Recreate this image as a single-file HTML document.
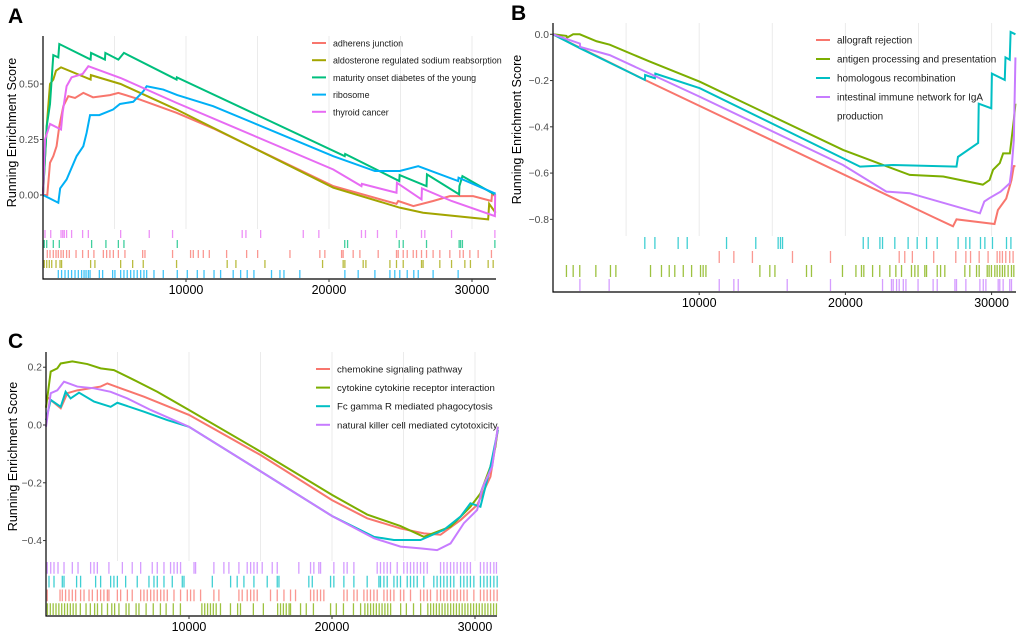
<!DOCTYPE html>
<html><head><meta charset="utf-8"><style>
html,body{margin:0;padding:0;background:#fff;}
svg{display:block;font-family:"Liberation Sans",Arial,sans-serif;}
</style></head><body>
<svg id="fig" width="1020" height="634" viewBox="0 0 1020 634"></svg>
<script>
// ---------- Panel A data (rank in thousands, running enrichment score) ----------
const aRed=[[0,0],[0.3,0],[0.49,0.145],[0.72,0.175],[0.95,0.22],[1.14,0.31],[1.42,0.40],[1.77,0.445],[2.24,0.437],[2.82,0.46],[3.5,0.44],[4.68,0.45],[5.27,0.46],[6.78,0.43],[9.34,0.37],[11.9,0.30],[20.3,0.04],[24.72,-0.04],[24.84,-0.027],[25.9,-0.05],[27.28,-0.027],[28.45,-0.005],[30.08,-0.005],[31.36,-0.027],[31.4,0.003],[31.65,-0.005]];
const aOlive=[[0,0],[0.26,0.31],[0.49,0.50],[0.72,0.52],[0.91,0.56],[1.26,0.575],[3.33,0.52],[3.35,0.54],[5.43,0.50],[9.34,0.385],[20.3,0.033],[24.95,-0.057],[26.58,-0.08],[31.13,-0.11],[31.2,-0.04],[31.65,-0.08]];
const aGreen=[[0,0],[0.26,0.31],[0.49,0.41],[0.72,0.63],[1.07,0.62],[1.14,0.68],[3.33,0.61],[3.36,0.64],[4.33,0.61],[4.36,0.64],[5.27,0.61],[5.66,0.64],[9.34,0.52],[9.36,0.53],[21.1,0.175],[21.13,0.185],[24.91,0.063],[24.94,0.09],[26.82,0.04],[26.85,0.093],[29.1,0.003],[29.12,0.04],[29.33,0.085],[31.65,0]];
const aBlue=[[0,0],[1.07,-0.035],[1.2,0.03],[1.65,0.07],[2.35,0.175],[2.82,0.22],[3.05,0.28],[3.29,0.36],[3.94,0.36],[4.9,0.385],[5.38,0.41],[6.31,0.42],[7.01,0.467],[7.25,0.49],[8.41,0.475],[9.39,0.45],[11.9,0.40],[20.3,0.175],[23.21,0.108],[24.95,0.108],[26.24,0.13],[29.03,0.063],[29.06,0.078],[31.65,0.006]];
const aPink=[[0,0],[0.14,0.25],[0.49,0.32],[1.26,0.295],[1.37,0.37],[1.65,0.49],[2.0,0.53],[2.77,0.545],[3.17,0.58],[5.43,0.527],[9.34,0.415],[20.3,0.115],[22.27,0.04],[22.3,0.05],[24.72,0.01],[24.75,0.055],[26.47,-0.02],[26.5,0.03],[28.57,-0.027],[31.6,-0.095],[31.62,0.003]];
const aRugPink=[0.14,0.54,1.26,1.38,1.49,1.65,2.0,2.77,3.17,5.43,7.43,9.06,13.93,14.19,15.22,18.2,19.29,22.27,22.55,23.39,24.72,26.47,26.7,28.57,31.6];
const aRugGreen=[0.09,0.26,0.72,1.14,3.4,4.4,5.27,5.66,9.39,21.1,21.3,24.91,25.19,26.82,29.1,29.2,29.33,31.6];
const aRugRed=[0.3,0.49,0.72,0.91,1.07,1.26,1.42,1.65,1.84,2.31,2.77,3.17,3.56,4.22,4.45,4.68,4.92,5.27,5.73,6.97,7.13,9.06,10.32,10.51,10.86,11.21,11.63,12.84,14.24,15.01,17.27,19.36,19.71,20.88,20.99,21.69,22.16,23.44,24.72,24.84,25.19,25.47,25.89,26.12,26.47,26.82,27.28,27.75,28.45,29.15,29.39,29.85,30.43,31.36];
const aRugOlive=[0.09,0.26,0.44,0.61,0.91,1.19,1.3,3.33,3.63,5.43,6.27,7.01,9.34,12.88,13.49,15.52,19.55,20.99,21.11,22.39,22.58,24.26,24.72,25.19,26.47,26.58,27.75,28.57,29.5,29.89,31.13,31.48];
const aRugBlue=[1.07,1.3,1.54,1.77,2.0,2.24,2.47,2.7,2.87,3.01,3.17,3.29,3.94,4.17,4.87,5.03,5.43,5.66,5.89,6.13,6.36,6.59,6.83,7.06,7.25,7.76,8.41,9.39,10.09,10.79,11.26,11.96,12.42,13.3,13.82,14.28,14.75,15.98,16.57,16.85,17.96,21.11,22.04,23.21,24.26,24.6,24.95,25.47,25.93,26.24,27.28,29.03];
const aLegend=["adherens junction","aldosterone regulated sodium reabsorption","maturity onset diabetes of the young","ribosome","thyroid cancer"];
const aYTicks=[0,0.25,0.5];
const aYTickLabels=["0.00","0.25","0.50"];

// ---------- Panel B data ----------
const bRed=[[0,0],[6.28,-0.197],[26.0,-0.79],[27.36,-0.83],[27.6,-0.8],[30.2,-0.82],[30.43,-0.76],[31.0,-0.71],[31.36,-0.63],[31.52,-0.57],[31.63,-0.57]];
const bGreen=[[0,0],[0.92,-0.007],[0.95,-0.015],[1.38,0],[1.83,0],[2.98,-0.03],[3.88,-0.045],[6.62,-0.118],[10.04,-0.205],[19.84,-0.5],[24.4,-0.608],[26.69,-0.615],[29.4,-0.65],[29.86,-0.63],[30.1,-0.586],[30.56,-0.557],[30.79,-0.515],[31.25,-0.515],[31.36,-0.457],[31.52,-0.37],[31.63,-0.3]];
const bCyan=[[0,0],[1.84,-0.06],[6.28,-0.197],[6.3,-0.176],[6.97,-0.19],[7.0,-0.17],[10.04,-0.233],[21.0,-0.572],[23.26,-0.565],[27.6,-0.572],[27.7,-0.53],[29.08,-0.47],[29.12,-0.3],[29.98,-0.32],[30.02,-0.17],[30.9,-0.197],[30.95,-0.1],[31.24,-0.11],[31.3,0.01],[31.63,0]];
const bPurple=[[0,0],[1.84,-0.04],[1.86,-0.055],[3.88,-0.09],[6.62,-0.17],[10.04,-0.27],[19.84,-0.565],[22.8,-0.68],[24.4,-0.687],[29.2,-0.774],[29.5,-0.723],[29.83,-0.709],[30.62,-0.68],[31.24,-0.644],[31.36,-0.586],[31.52,-0.457],[31.6,-0.2],[31.63,-0.1]];
const bRugCyan=[6.28,6.97,8.56,9.18,11.87,13.87,15.4,15.56,15.7,21.22,21.56,22.36,22.54,23.38,24.29,24.91,25.55,26.28,27.71,28.24,28.51,29.24,29.54,30.06,31.02,31.32];
const bRugRed=[11.37,12.37,13.64,16.38,18.98,23.68,24.06,24.58,26.04,27.55,28.24,28.56,29.15,29.76,30.38,30.56,30.74,30.97,31.24,31.47];
const bRugGreen=[0.92,1.38,1.83,2.93,3.93,4.3,6.67,7.42,7.95,8.33,8.91,9.48,10.09,10.27,10.46,14.15,14.83,15.18,17.34,17.68,19.8,20.72,21.1,21.26,21.86,22.35,23.04,23.45,23.84,24.52,24.75,24.97,25.43,25.55,26.28,26.51,26.8,28.17,28.51,28.97,29.15,29.7,29.83,29.99,30.22,30.38,30.56,30.74,30.9,31.13,31.36,31.52];
const bRugPurple=[1.84,3.84,11.37,12.37,12.67,16.02,18.98,22.54,23.15,23.27,23.5,23.68,23.96,24.14,24.97,26.0,26.28,27.49,27.6,28.24,29.2,29.43,29.61,30.45,30.56,30.79,31.24,31.36];
const bLegend=["allograft rejection","antigen processing and presentation","homologous recombination","intestinal immune network for IgA"];
const bYTicks=[0,-0.2,-0.4,-0.6,-0.8];
const bYTickLabels=["0.0","\u22120.2","\u22120.4","\u22120.6","\u22120.8"];

// ---------- Panel C data ----------
const cRed=[[0,0.1],[1.03,0.058],[1.49,0.11],[2.19,0.12],[3.82,0.133],[4.29,0.144],[5.22,0.127],[6.85,0.098],[10.0,0.035],[15.0,-0.104],[20.0,-0.26],[22.46,-0.323],[24.79,-0.358],[26.42,-0.375],[27.59,-0.38],[28.99,-0.329],[30.15,-0.277],[31.08,-0.179],[31.6,-0.017]];
const cGreen=[[0,0.06],[0.33,0.185],[0.79,0.196],[1.03,0.213],[1.84,0.22],[2.89,0.211],[3.82,0.196],[4.75,0.19],[6.15,0.156],[7.78,0.115],[10.0,0.052],[15.0,-0.092],[20.0,-0.242],[22.46,-0.31],[24.79,-0.35],[26.42,-0.387],[28.29,-0.352],[29.68,-0.283],[30.38,-0.237],[31.08,-0.144],[31.43,-0.075],[31.6,-0.006]];
const cCyan=[[0,0.017],[0.33,0.087],[1.03,0.063],[1.37,0.115],[1.72,0.092],[2.31,0.112],[3.36,0.081],[4.52,0.063],[4.99,0.077],[6.85,0.046],[8.48,0.017],[10.0,-0.006],[15.0,-0.16],[20.0,-0.315],[22.93,-0.387],[24.33,-0.398],[26.19,-0.398],[27.82,-0.363],[28.99,-0.317],[29.68,-0.271],[30.38,-0.283],[31.08,-0.144],[31.6,-0.017]];
const cPurple=[[0,-0.006],[0.33,0.11],[0.79,0.12],[1.26,0.15],[2.19,0.133],[3.36,0.127],[4.52,0.115],[5.69,0.092],[7.32,0.052],[10.0,-0.006],[15.0,-0.16],[20.0,-0.315],[22.93,-0.392],[24.79,-0.421],[26.19,-0.427],[27.35,-0.433],[28.29,-0.41],[29.22,-0.34],[30.15,-0.294],[30.5,-0.219],[31.2,-0.144],[31.6,-0.006]];
const cRugPurple=[0.09,0.33,0.56,0.84,1.26,1.84,2.24,3.12,3.36,3.59,4.4,5.34,6.03,6.62,7.43,7.78,8.25,8.71,8.95,9.18,9.41,10.35,10.46,11.74,12.44,12.79,13.49,14.07,14.31,14.54,14.77,15.12,15.82,16.17,17.68,18.5,18.73,19.08,19.2,20.13,20.83,21.06,21.53,23.16,23.39,23.63,23.86,24.09,24.56,25.02,25.26,25.49,25.72,25.96,26.19,26.42,26.66,27.59,27.82,28.05,28.29,28.52,28.75,28.99,29.22,29.45,29.68,30.38,30.62,30.85,31.08,31.32,31.5];
const cRugCyan=[0.21,0.56,1.14,1.26,2.14,2.42,3.47,3.82,4.52,4.75,4.99,5.57,6.38,7.2,7.55,7.78,8.25,8.83,9.53,9.65,11.63,12.91,13.37,13.84,14.54,15.47,16.17,16.29,18.38,18.62,19.9,20.13,20.83,21.53,22.46,23.28,23.39,23.63,23.86,24.33,24.56,24.79,25.26,25.49,25.72,25.96,26.42,27.12,27.35,27.59,27.82,28.05,28.29,28.52,28.99,29.22,29.45,29.68,29.92,30.38,30.62,30.85,31.08,31.32,31.55];
const cRugRed=[0.09,0.98,1.14,1.37,1.61,1.84,2.07,2.42,2.66,3.01,3.24,3.59,3.82,4.05,4.29,4.4,4.99,5.22,5.69,6.03,6.62,6.85,7.08,7.32,7.55,7.78,8.02,8.25,8.48,8.95,9.41,9.88,10.11,10.35,10.81,11.74,12.09,13.49,13.72,14.07,14.31,14.54,14.77,15.7,16.17,16.64,17.1,17.45,18.5,18.73,18.97,19.2,19.43,20.83,21.06,21.53,21.76,22.23,22.46,22.69,22.93,23.16,23.63,23.86,24.09,24.33,24.79,25.02,25.49,26.19,26.42,26.66,26.89,27.35,27.59,27.82,28.05,28.29,28.52,28.75,28.99,29.22,29.45,29.92,30.38,30.62,30.85,31.08,31.32,31.55];
const cRugGreen=[0.1,0.3,0.5,0.7,0.9,1.1,1.3,1.5,1.7,1.9,2.1,2.4,2.8,3.1,3.4,3.6,3.9,4.3,4.6,4.8,5.1,5.6,5.8,6.3,6.5,7.0,7.5,8.0,8.4,8.9,9.4,10.9,11.1,11.3,11.5,11.7,11.9,12.2,12.9,13.4,13.6,14.5,15.2,16.2,16.4,16.6,16.8,17.0,17.1,17.8,18.2,18.7,19.9,20.3,20.8,21.5,22.0,22.3,22.5,22.7,22.9,23.1,23.3,23.5,23.7,23.9,24.1,24.8,25.2,25.7,26.2,26.7,26.9,27.1,27.3,27.5,27.7,27.9,28.1,28.3,28.5,28.7,28.9,29.1,29.3,29.5,29.7,29.9,30.1,30.3,30.5,30.7,30.9,31.1,31.3,31.5];
const cLegend=["chemokine signaling pathway","cytokine cytokine receptor interaction","Fc gamma R mediated phagocytosis","natural killer cell mediated cytotoxicity"];
const cYTicks=[0.2,0,-0.2,-0.4];
const cYTickLabels=["0.2","0.0","\u22120.2","\u22120.4"];

const xTicks=[10,20,30];
const xTickLabels=["10000","20000","30000"];
const xGrid=[5,10,15,20,25,30];

const NS="http://www.w3.org/2000/svg";
const svg=document.getElementById('fig');
function mk(tag,attrs,parent){const e=document.createElementNS(NS,tag);for(const k in attrs)e.setAttribute(k,attrs[k]);(parent||svg).appendChild(e);return e;}

function drawPanel(P){
  const g=mk('g',{});
  
  
  const sx=v=>P.x0+v*P.pxPerK;
  const sy=v=>P.yZero-v*P.pxPerUnit;
  xGrid.forEach(v=>{const l=mk('line',{x1:sx(v),x2:sx(v),y1:P.top,y2:P.gridBottom,stroke:'#ebebeb','stroke-width':1},g);
    
    });
  P.series.forEach((s,i)=>{
    const pl=mk('polyline',{points:s.d.map(p=>sx(p[0])+','+sy(p[1])).join(' '),fill:'none',stroke:s.c,'stroke-width':2,'stroke-linejoin':'miter'},g);
    
    
  });
  P.rugs.forEach((r,i)=>{
    const y1=P.gridBottom+i*P.rugH, y2=y1+P.rugH;
    r.d.forEach(v=>{const l=mk('line',{x1:sx(v),x2:sx(v),y1:y1+1,y2:y2-1,stroke:r.c,'stroke-width':1.3,'stroke-opacity':0.75},g);
      
      });
  });
  const ax=mk('path',{d:`M${P.x0},${P.top} V${P.bottom} H${P.right}`,fill:'none',stroke:'#000','stroke-width':1.2},g);
  
  
  P.yTicks.forEach((v,i)=>{
    mk('line',{x1:P.x0-3,x2:P.x0,y1:sy(v),y2:sy(v),stroke:'#333','stroke-width':1},g);
    const t=mk('text',{x:P.x0-4,y:sy(v)+3.5,'text-anchor':'end','font-size':10.3,fill:'#4d4d4d'},g);
    t.textContent=P.yLabels[i];
    
    
  });
  xTicks.forEach((v,i)=>{
    mk('line',{x1:sx(v),x2:sx(v),y1:P.bottom,y2:P.bottom+3,stroke:'#333','stroke-width':1},g);
    const t=mk('text',{x:sx(v),y:P.bottom+15,'text-anchor':'middle','font-size':12.5,fill:'#000'},g);
    t.textContent=xTickLabels[i];
    
    
  });
  const yc=(P.top+P.gridBottom)/2;
  const yt=mk('text',{x:0,y:0,transform:`translate(${P.titleX},${yc}) rotate(-90)`,'text-anchor':'middle','font-size':12.5,fill:'#000'},g);
  yt.textContent='Running Enrichment Score';
  
  
  const lt=mk('text',{x:P.letterX,y:P.letterY,'font-size':21,'font-weight':'bold',fill:'#000'},g);
  lt.textContent=P.letter;
  
  
  P.legend.forEach((name,i)=>{
    const y=P.legY+i*P.legStep;
    const k=mk('line',{x1:P.legX,x2:P.legX+14,y1:y,y2:y,stroke:P.series[i].c,'stroke-width':2},g);
    
    
    const t=mk('text',{x:P.legX+21,y:y+3.5,'font-size':P.legFont,fill:'#1a1a1a'},g);
    t.textContent=name;
    
    
  });
  if(P.extra){const t=mk('text',{x:P.legX+21,y:P.legY+P.legend.length*P.legStep+3.5,'font-size':P.legFont,fill:'#1a1a1a'},g);
    t.textContent=P.extra;
    
    }
}

drawPanel({name:'panel-a',letter:'A',letterX:8,letterY:23,x0:43,pxPerK:14.3,right:496,top:36,bottom:279,gridBottom:229,rugH:10,yZero:195,pxPerUnit:222,titleX:16,
  yTicks:aYTicks,yLabels:aYTickLabels,legX:312,legY:43,legStep:17.2,legFont:8.9,legend:aLegend,
  series:[{d:aRed,c:'#F8766D'},{d:aOlive,c:'#A3A500'},{d:aGreen,c:'#00BF7D'},{d:aBlue,c:'#00B0F6'},{d:aPink,c:'#E76BF3'}],
  rugs:[{d:aRugPink,c:'#E76BF3'},{d:aRugGreen,c:'#00BF7D'},{d:aRugRed,c:'#F8766D'},{d:aRugOlive,c:'#A3A500'},{d:aRugBlue,c:'#00B0F6'}]});
drawPanel({name:'panel-b',letter:'B',letterX:511,letterY:20,x0:553,pxPerK:14.62,right:1016,top:23,bottom:292,gridBottom:236,rugH:14,yZero:34.3,pxPerUnit:231.3,titleX:521,
  yTicks:bYTicks,yLabels:bYTickLabels,legX:816,legY:40,legStep:19,legFont:9.9,legend:bLegend,extra:'production',
  series:[{d:bRed,c:'#F8766D'},{d:bGreen,c:'#7CAE00'},{d:bCyan,c:'#00BFC4'},{d:bPurple,c:'#C77CFF'}],
  rugs:[{d:bRugCyan,c:'#00BFC4'},{d:bRugRed,c:'#F8766D'},{d:bRugGreen,c:'#7CAE00'},{d:bRugPurple,c:'#C77CFF'}]});
drawPanel({name:'panel-c',letter:'C',letterX:8,letterY:348,x0:46,pxPerK:14.3,right:497,top:352,bottom:616,gridBottom:561,rugH:13.75,yZero:425,pxPerUnit:288.9,titleX:17,
  yTicks:cYTicks,yLabels:cYTickLabels,legX:316,legY:369,legStep:18.6,legFont:9.6,legend:cLegend,
  series:[{d:cRed,c:'#F8766D'},{d:cGreen,c:'#7CAE00'},{d:cCyan,c:'#00BFC4'},{d:cPurple,c:'#C77CFF'}],
  rugs:[{d:cRugPurple,c:'#C77CFF'},{d:cRugCyan,c:'#00BFC4'},{d:cRugRed,c:'#F8766D'},{d:cRugGreen,c:'#7CAE00'}]});
</script>
</body></html>
